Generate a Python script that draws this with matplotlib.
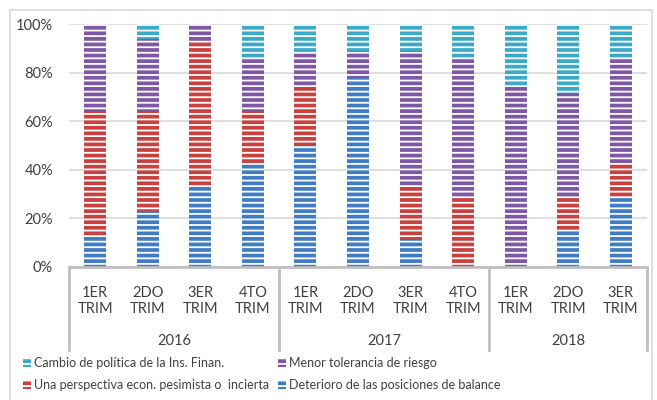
import matplotlib
matplotlib.use("Agg")
import matplotlib.pyplot as plt
from matplotlib.patches import Rectangle
import numpy as np

plt.rcParams['font.family'] = ['Lato', 'DejaVu Sans']
plt.rcParams['hatch.linewidth'] = 1.3

# data (shares, %)
quarters = ["1ER\nTRIM", "2DO\nTRIM", "3ER\nTRIM", "4TO\nTRIM",
            "1ER\nTRIM", "2DO\nTRIM", "3ER\nTRIM", "4TO\nTRIM",
            "1ER\nTRIM", "2DO\nTRIM", "3ER\nTRIM"]
years = ["2016", "2017", "2018"]
year_counts = [4, 4, 3]

deterioro = [13, 23, 33, 42.9, 50, 77.8, 11.1, 0, 0, 14.3, 28.6]
pesimista = [51, 41, 60, 21.4, 25, 0, 22.2, 28.6, 0, 14.3, 14.3]
menor_tol = [36, 30, 7, 21.4, 12.5, 11.1, 55.6, 57.1, 75, 42.9, 42.9]
cambio = [0, 6, 0, 14.3, 12.5, 11.1, 11.1, 14.3, 25, 28.6, 14.3]

series = [
    ("Deterioro de las posiciones de balance", deterioro, '#3F7CC4'),
    ("Una perspectiva econ. pesimista o  incierta", pesimista, '#C9413F'),
    ("Menor tolerancia de riesgo", menor_tol, '#7E57A5'),
    ("Cambio de política de la Ins. Finan.", cambio, '#3AAAC8'),
]

W, H = 657, 400
fig = plt.figure(figsize=(W / 100, H / 100), dpi=100)
ax = fig.add_axes([69 / W, 1 - 267 / H, (647 - 69) / W, (267 - 24) / H])

x = np.arange(len(quarters))
bottom = np.zeros(len(quarters))
for name, vals, col in series:
    vals = np.array(vals, dtype=float)
    ax.bar(x, vals, 0.42, bottom=bottom, color=col, edgecolor='white',
           linewidth=0, hatch='---', zorder=3)
    bottom += vals

ax.set_xlim(-0.5, len(quarters) - 0.5)
ax.set_ylim(0, 100)
ax.set_yticks(np.arange(0, 101, 20))
ax.set_yticklabels([f"{v}%" for v in range(0, 101, 20)])
ax.tick_params(axis='y', length=0, pad=11.5, labelsize=10.5, labelcolor='#404040')
ax.set_xticks([])
ax.grid(axis='y', color='#d9d9d9', linewidth=1.2, zorder=0)
for s in ax.spines.values():
    s.set_visible(False)

# category axis box
trans = ax.get_xaxis_transform()
depth = -(350 - 267) / 243
ax.plot([-0.5, len(quarters) - 0.5], [0, 0], color='#bfbfbf', lw=2,
        transform=trans, clip_on=False, zorder=4)
edges = np.concatenate([[0], np.cumsum(year_counts)]) - 0.5
for e in edges:
    ax.plot([e, e], [0, depth], color='#bfbfbf', lw=2, transform=trans,
            clip_on=False)
for xi, q in zip(x, quarters):
    ax.text(xi, -(301 - 267) / 243, q, transform=trans, ha='center',
            va='center', fontsize=10.5, color='#404040', linespacing=1.25)
for i, yr in enumerate(years):
    ax.text((edges[i] + edges[i + 1]) / 2, -(341 - 267) / 243, yr,
            transform=trans, ha='center', va='center', fontsize=10.5,
            color='#404040')

# legend
leg = [(series[3], 27, 363), (series[2], 282, 363),
       (series[1], 27, 385), (series[0], 282, 385)]
for (name, _, col), lx, ly in leg:
    fig.add_artist(Rectangle(((lx - 4) / W, 1 - (ly + 4) / H), 8 / W, 8 / H,
                             transform=fig.transFigure, facecolor=col,
                             edgecolor='white', linewidth=0, hatch='---'))
    fig.text((lx + 7) / W, 1 - ly / H, name, ha='left', va='center',
             fontsize=9, color='#404040')

# outer border
fig.add_artist(Rectangle((10 / W, -0.01), (652 - 10) / W, 1 - 10 / H + 0.01,
                         transform=fig.transFigure, fill=False,
                         edgecolor='#d9d9d9', linewidth=1.2))

fig.savefig("out.png", dpi=100)
